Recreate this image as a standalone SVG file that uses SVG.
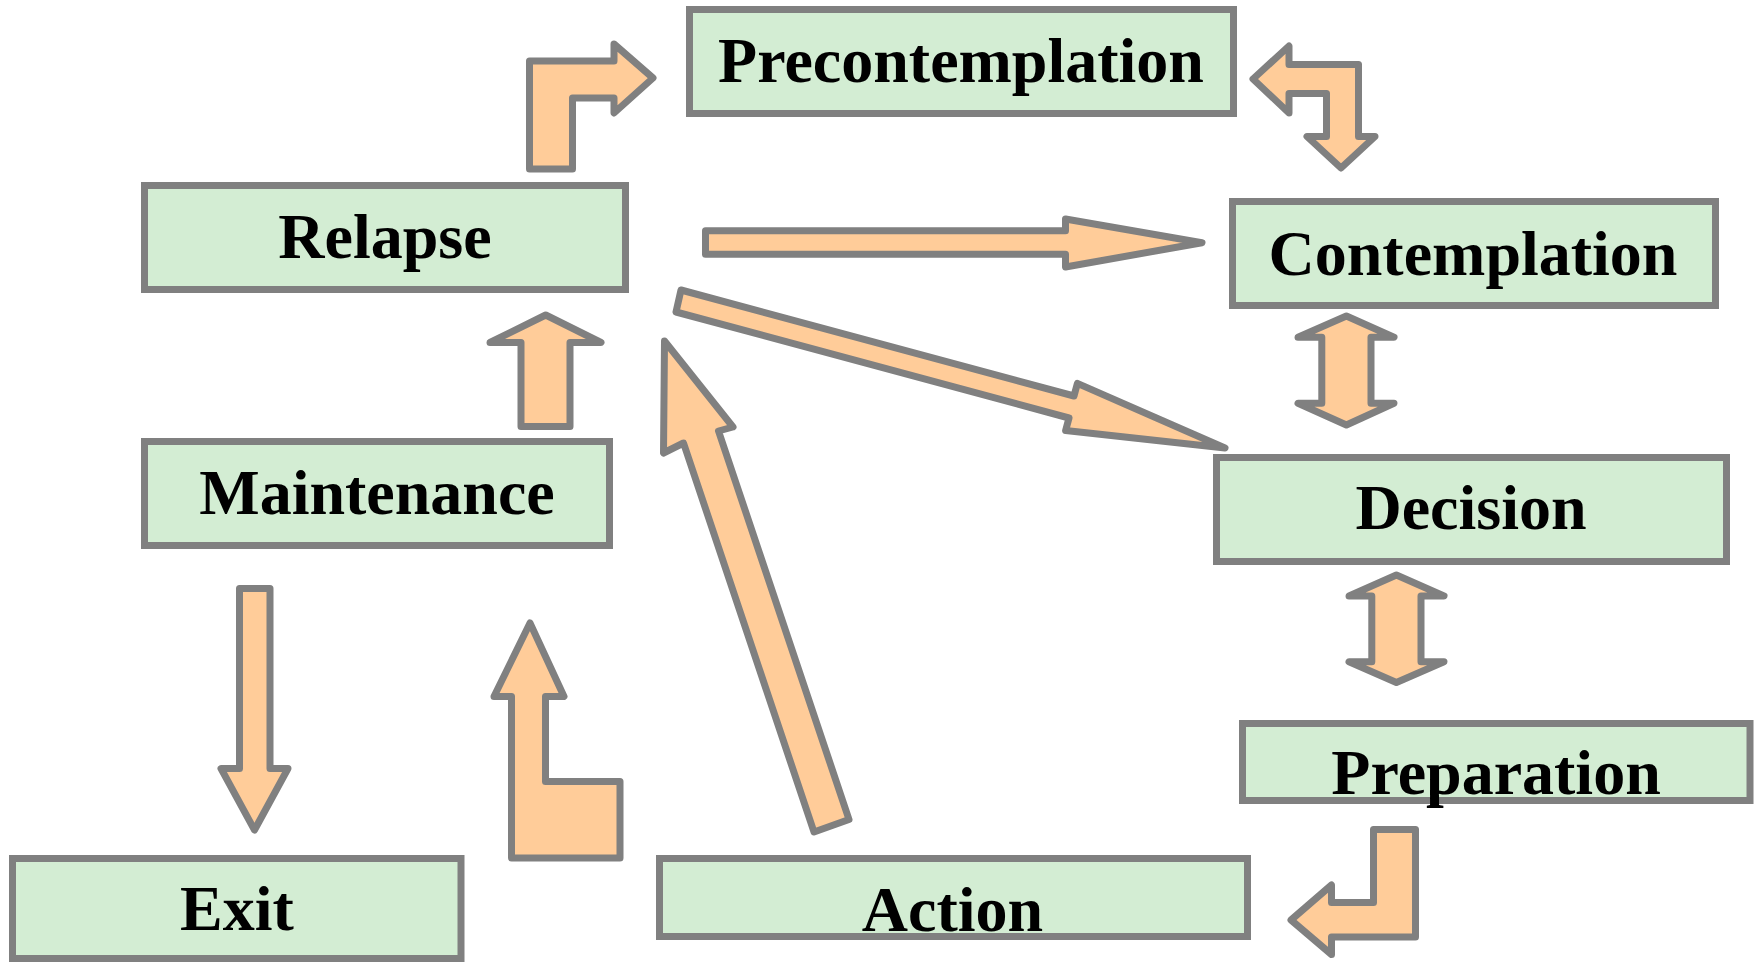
<svg xmlns="http://www.w3.org/2000/svg" width="1758" height="963" viewBox="0 0 1758 963">
  <style>
    .box { fill: #D3EDD3; stroke: #808080; stroke-width: 7; }
    .lbl { font-family: "Liberation Serif", "Times New Roman", serif; font-weight: bold; font-size: 64px; fill: #000; text-anchor: middle; }
    .arr { fill: #FFCC99; stroke: #808080; stroke-width: 7; stroke-linejoin: round; }
  </style>
  <rect width="1758" height="963" fill="#FFFFFF"/>

  <g id="precontemplation">
    <rect class="box" x="689.5" y="9.5" width="544" height="104"/>
    <text class="lbl" x="961" y="82">Precontemplation</text>
  </g>
  <g id="relapse">
    <rect class="box" x="144.5" y="185.5" width="481" height="104"/>
    <text class="lbl" x="385" y="258">Relapse</text>
  </g>
  <g id="contemplation">
    <rect class="box" x="1232.5" y="201.5" width="483" height="104"/>
    <text class="lbl" x="1473" y="275">Contemplation</text>
  </g>
  <g id="maintenance">
    <rect class="box" x="144.5" y="441.5" width="465" height="104"/>
    <text class="lbl" x="377" y="514">Maintenance</text>
  </g>
  <g id="decision">
    <rect class="box" x="1216.5" y="457.5" width="510" height="104"/>
    <text class="lbl" x="1471" y="529">Decision</text>
  </g>
  <g id="preparation">
    <rect class="box" x="1242.5" y="723.5" width="507.5" height="77"/>
    <text class="lbl" x="1496" y="794">Preparation</text>
  </g>
  <g id="exit">
    <rect class="box" x="12.5" y="858.5" width="448.5" height="100"/>
    <text class="lbl" x="237" y="930">Exit</text>
  </g>
  <g id="action">
    <rect class="box" x="659.5" y="858.5" width="588" height="78"/>
    <text class="lbl" x="952.5" y="930.5">Action</text>
  </g>

  <g id="connectors">
    <!-- Relapse -> Precontemplation (bent) -->
    <path class="arr" d="M529.5,169 L529.5,61 L614,61 L614,44 L653,78 L614,113 L614,98 L572.5,98 L572.5,169 Z"/>
    <!-- Precontemplation <-> Contemplation (bent, two heads) -->
    <path class="arr" d="M1253,79 L1289,46 L1289,64.5 L1358.5,64.5 L1358.5,136.5 L1375,136.5 L1341,168 L1307,136.5 L1326.5,136.5 L1326.5,93.5 L1289,93.5 L1289,113 Z"/>
    <!-- Relapse -> Contemplation -->
    <path class="arr" d="M705.5,230.8 L1065.5,230.8 L1065.5,219 L1202,242.7 L1065.5,267 L1065.5,254.2 L705.5,254.2 Z"/>
    <!-- Relapse -> Decision -->
    <path class="arr" d="M681,290 L1074,396 L1077.4,383.4 L1225,448 L1065.6,430.6 L1069,418 L676,312 Z"/>
    <!-- Action -> Relapse -->
    <path class="arr" d="M664.5,341 L733,427 L718.5,431 L849,819.5 L814,832 L683.5,443 L663.5,453 Z"/>
    <!-- Maintenance -> Relapse -->
    <path class="arr" d="M545.7,315 L601,342.5 L570,342.5 L570,426.5 L521,426.5 L521,342.5 L490,342.5 Z"/>
    <!-- Maintenance -> Exit -->
    <path class="arr" d="M239.5,588.5 L270,588.5 L270,768.5 L288,768.5 L254.5,830 L221,768.5 L239.5,768.5 Z"/>
    <!-- Action -> Maintenance (bent) -->
    <path class="arr" d="M530,623 L564,696.5 L545.5,696.5 L545.5,781.5 L620,781.5 L620,858 L511.5,858 L511.5,696.5 L494,696.5 Z"/>
    <!-- Contemplation <-> Decision -->
    <path class="arr" d="M1346.4,316 L1394,337.3 L1371,337.3 L1371,403.3 L1394,403.3 L1346.4,425 L1298,403.3 L1321.8,403.3 L1321.8,337.3 L1298,337.3 Z"/>
    <!-- Decision <-> Preparation -->
    <path class="arr" d="M1396.4,575 L1444,596 L1421,596 L1421,661.7 L1444,661.7 L1396.4,682.5 L1349,661.7 L1371.8,661.7 L1371.8,596 L1349,596 Z"/>
    <!-- Preparation -> Action (bent) -->
    <path class="arr" d="M1415.5,829.5 L1415.5,937 L1331.5,937 L1331.5,954.5 L1291,920 L1331.5,885 L1331.5,902.5 L1373.5,902.5 L1373.5,829.5 Z"/>
  </g>
</svg>
